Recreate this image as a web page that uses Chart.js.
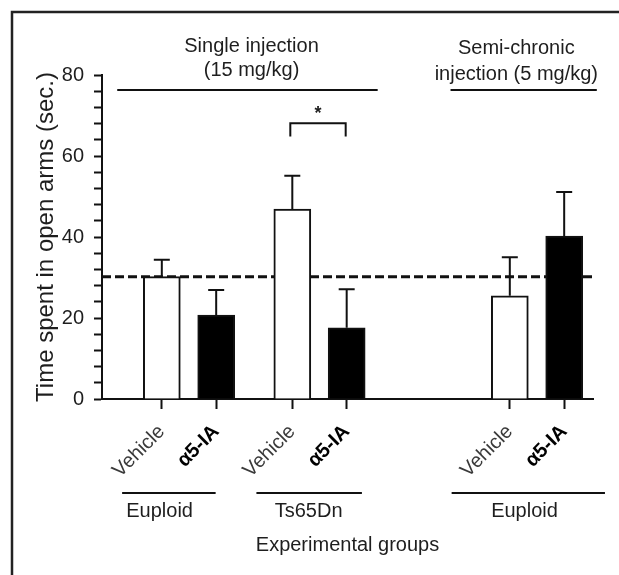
<!DOCTYPE html>
<html><head><meta charset="utf-8">
<script src="https://cdn.jsdelivr.net/npm/chart.js@4"></script>
<style>html,body{margin:0;padding:0;background:#fff}#wrap{width:619px;height:575px;position:relative}</style>
</head><body><div id="wrap"><canvas id="c" width="619" height="575"></canvas></div>
<script>
// ---- data ----
const categories = ['Vehicle', 'α5-IA', 'Vehicle', 'α5-IA', 'Vehicle', 'α5-IA'];
const genotypes = ['Euploid', 'Euploid', 'Ts65Dn', 'Ts65Dn', 'Euploid', 'Euploid'];
const meanTime = [30.2, 20.7, 46.9, 17.6, 25.5, 40.2];
const semUpper = [4.2, 6.2, 8.2, 9.5, 9.5, 10.9];
const yTickLabels = [0, 20, 40, 60, 80];
const referenceLevel = 30.2;
const groupLabels = ['Euploid', 'Ts65Dn', 'Euploid'];
const protocolLabels = [['Single injection', '(15 mg/kg)'], ['Semi-chronic', 'injection (5 mg/kg)']];
const significanceMark = '*';
const significancePair = [2, 3];

// ---- layout (axis units, not data) ----
const barSlots = [1, 2, 3.4, 4.4, 7.4, 8.4];
const groupSpans = [[0.27, 1.99], [2.74, 4.68], [6.33, 9.15]];
const groupLabelX = [0.96, 3.7, 7.67];
const protocolSpans = [[0.18, 4.97], [6.31, 9.0]];
const protocolCenters = [2.65, 7.52];
const protocolLineLevel = 76.3;
const bracketLevels = [68.1, 64.8];

const FONT = '"Liberation Sans", Arial, Helvetica, sans-serif';
const INK = '#1e1e1e';
Chart.defaults.font.family = FONT;

const decor = {
  id: 'decor',
  beforeDatasetsDraw(chart) {
    const {ctx, chartArea, scales: {y}} = chart;
    const py = y.getPixelForValue(referenceLevel);
    ctx.save();
    ctx.strokeStyle = '#111';
    ctx.lineWidth = 3;
    ctx.setLineDash([9, 4]);
    ctx.beginPath();
    ctx.moveTo(chartArea.left, py);
    ctx.lineTo(chartArea.right, py);
    ctx.stroke();
    ctx.restore();
  },
  afterDatasetsDraw(chart) {
    const {ctx, scales: {x, y}} = chart;
    ctx.save();
    ctx.strokeStyle = '#111';
    ctx.lineWidth = 2;
    // error bars (upper only)
    meanTime.forEach((m, i) => {
      const px = x.getPixelForValue(barSlots[i]);
      const p0 = y.getPixelForValue(m);
      const p1 = y.getPixelForValue(m + semUpper[i]);
      ctx.beginPath();
      ctx.moveTo(px, p0); ctx.lineTo(px, p1);
      ctx.moveTo(px - 8, p1); ctx.lineTo(px + 8, p1);
      ctx.stroke();
    });
    // significance bracket
    const bx0 = x.getPixelForValue(barSlots[significancePair[0]]) - 2;
    const bx1 = x.getPixelForValue(barSlots[significancePair[1]]) - 1;
    const by0 = y.getPixelForValue(bracketLevels[0]);
    const by1 = y.getPixelForValue(bracketLevels[1]);
    ctx.beginPath();
    ctx.moveTo(bx0, by1); ctx.lineTo(bx0, by0); ctx.lineTo(bx1, by0); ctx.lineTo(bx1, by1);
    ctx.stroke();
    ctx.fillStyle = INK;
    ctx.font = 'bold 18px ' + FONT;
    ctx.textAlign = 'center';
    ctx.textBaseline = 'alphabetic';
    ctx.fillText(significanceMark, (bx0 + bx1) / 2, by0 - 4);
    ctx.restore();
  },
  afterDraw(chart) {
    const {ctx, chartArea, scales: {x, y}} = chart;
    ctx.save();
    ctx.strokeStyle = '#111';
    ctx.fillStyle = INK;
    ctx.lineWidth = 2;
    // protocol lines and titles
    const ly = y.getPixelForValue(protocolLineLevel);
    protocolSpans.forEach(([a, b]) => {
      ctx.beginPath();
      ctx.moveTo(x.getPixelForValue(a), ly);
      ctx.lineTo(x.getPixelForValue(b), ly);
      ctx.stroke();
    });
    ctx.font = '20px ' + FONT;
    ctx.textAlign = 'center';
    ctx.textBaseline = 'alphabetic';
    const titleBase = [[52, 76], [54, 80]];
    protocolLabels.forEach((lines, i) => {
      const cx = x.getPixelForValue(protocolCenters[i]);
      lines.forEach((t, j) => ctx.fillText(t, cx, titleBase[i][j]));
    });
    // genotype group lines and labels
    const gy = chartArea.bottom + 94;
    groupSpans.forEach(([a, b], i) => {
      ctx.beginPath();
      ctx.moveTo(x.getPixelForValue(a), gy);
      ctx.lineTo(x.getPixelForValue(b), gy);
      ctx.stroke();
      ctx.fillText(groupLabels[i], x.getPixelForValue(groupLabelX[i]), gy + 24);
    });
    // frame
    ctx.lineWidth = 2.5;
    ctx.strokeStyle = '#222';
    ctx.beginPath();
    ctx.moveTo(12, 575); ctx.lineTo(12, 12); ctx.lineTo(619, 12);
    ctx.stroke();
    ctx.restore();
  }
};

new Chart(document.getElementById('c'), {
  type: 'bar',
  data: {
    datasets: [{
      data: meanTime.map((v, i) => ({x: barSlots[i], y: v})),
      backgroundColor: categories.map(c => c === 'Vehicle' ? '#ffffff' : '#000000'),
      borderColor: '#111',
      borderWidth: 2,
      borderSkipped: 'bottom',
      barThickness: 37
    }]
  },
  options: {
    responsive: false,
    animation: false,
    layout: {padding: {top: 75, right: 26, left: 0, bottom: 0}},
    plugins: {legend: {display: false}, tooltip: {enabled: false}},
    scales: {
      x: {
        type: 'linear',
        min: -0.1,
        max: 8.93,
        offset: false,
        afterBuildTicks: s => { s.ticks = barSlots.map(v => ({value: v})); },
        afterFit: s => { s.height = 176; },
        ticks: {
          autoSkip: false,
          minRotation: 45,
          maxRotation: 45,
          padding: 11,
          callback: (v, i) => categories[i],
          font: c => ({size: 20, family: FONT, weight: categories[c.index] === 'Vehicle' ? 'normal' : 'bold'}),
          color: c => categories[c.index] === 'Vehicle' ? '#3a3a3a' : '#000'
        },
        grid: {drawOnChartArea: false, drawTicks: true, offset: false, tickLength: 10, tickColor: '#111', tickWidth: 2},
        border: {display: true, color: '#111', width: 2},
        title: {display: true, text: 'Experimental groups', color: INK, font: {size: 20, family: FONT}, padding: 18}
      },
      y: {
        min: 0,
        max: 80,
        afterFit: s => { s.width = 102; },
        ticks: {
          stepSize: 4,
          autoSkip: false,
          padding: 10,
          color: INK,
          font: {size: 20, family: FONT},
          callback: v => yTickLabels.includes(v) ? String(v) : ''
        },
        grid: {drawOnChartArea: false, drawTicks: true, tickLength: 8, tickColor: '#111', tickWidth: 2},
        border: {display: true, color: '#111', width: 2},
        title: {display: true, text: 'Time spent in open arms (sec.)', color: INK, font: {size: 24, family: FONT}, padding: {top: 32, bottom: 0}}
      }
    }
  },
  plugins: [decor]
});
</script>
</body></html>
